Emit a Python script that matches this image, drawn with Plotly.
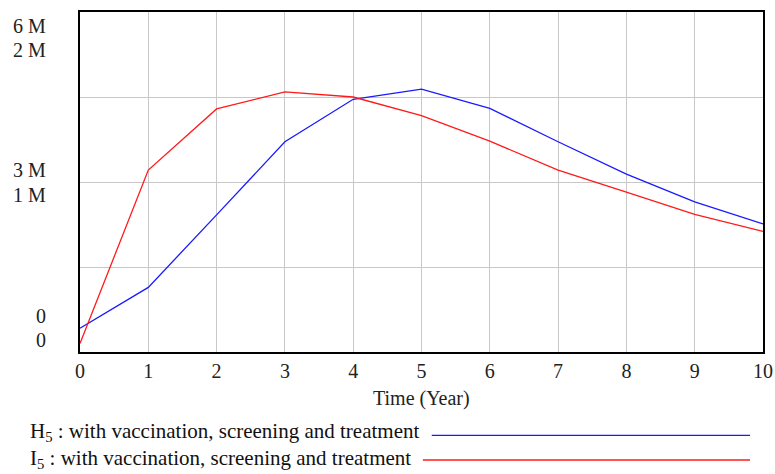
import plotly.graph_objects as go

# Simulation output, yearly
years = [0, 1, 2, 3, 4, 5, 6, 7, 8, 9, 10]
h5_values = [0.42e6, 1.14e6, 2.42e6, 3.71e6, 4.46e6, 4.64e6, 4.30e6, 3.71e6, 3.14e6, 2.65e6, 2.26e6]
i5_values = [0.05e6, 1.07e6, 1.43e6, 1.53e6, 1.50e6, 1.39e6, 1.24e6, 1.07e6, 0.94e6, 0.81e6, 0.71e6]

# Two stacked value scales on the left side
h5_tick_vals = [6e6, 3e6, 0]
h5_tick_text = ["6 M", "3 M", "0"]
i5_tick_vals = [2e6, 1e6, 0]
i5_tick_text = ["2 M", "1 M", "0"]

series_names = [
    "H<sub>5</sub> : with vaccination, screening and treatment",
    "I<sub>5</sub> : with vaccination, screening and treatment",
]
axis_title = "Time (Year)"

FONT = "Liberation Serif"
BLUE = "#1a1aff"
RED = "#ff1a1a"
GRID = "#c8c8c8"
INK = "#222"

fig = go.Figure()
fig.add_trace(go.Scatter(x=years, y=h5_values, mode="lines",
                         line=dict(color=BLUE, width=1.3), yaxis="y", showlegend=False))
fig.add_trace(go.Scatter(x=years, y=i5_values, mode="lines",
                         line=dict(color=RED, width=1.3), yaxis="y2", showlegend=False))

annotations = []
# Stacked tick labels: H5 scale on the upper row, I5 scale on the lower row,
# nudged so each pair stays inside the frame
h5_shift = [-14, 12, 36]
i5_shift = [-38, -13, 12]
for k in range(3):
    annotations.append(dict(x=0, xref="paper", y=h5_tick_vals[k], yref="y",
                            text=h5_tick_text[k], showarrow=False, xanchor="right",
                            yanchor="middle", xshift=-32, yshift=h5_shift[k],
                            font=dict(family=FONT, size=20, color=INK)))
    annotations.append(dict(x=0, xref="paper", y=i5_tick_vals[k], yref="y2",
                            text=i5_tick_text[k], showarrow=False, xanchor="right",
                            yanchor="middle", xshift=-32, yshift=i5_shift[k],
                            font=dict(family=FONT, size=20, color=INK)))

annotations.append(dict(x=0.5, xref="paper", y=-0.137, yref="paper", text=axis_title,
                        showarrow=False, xanchor="center", yanchor="middle",
                        font=dict(family=FONT, size=20, color=INK)))

# Legend rows: label on the left, sample line on the right
legend_rows = [(-0.2353, -0.2450, 0.515, BLUE), (-0.3147, -0.3176, 0.502, RED)]
shapes = []
for name, (ty, ly, lx0, col) in zip(series_names, legend_rows):
    annotations.append(dict(x=-0.0758, xref="paper", y=ty, yref="paper", text=name,
                            showarrow=False, xanchor="left", yanchor="middle",
                            font=dict(family=FONT, size=21, color="#111")))
    shapes.append(dict(type="line", xref="paper", yref="paper", x0=lx0, x1=0.981,
                       y0=ly, y1=ly, line=dict(color=col, width=1.3)))

fig.update_layout(
    width=775, height=474,
    margin=dict(l=80, r=12, t=12, b=122),
    paper_bgcolor="white", plot_bgcolor="white",
    font=dict(family=FONT, size=20, color=INK),
    xaxis=dict(range=[0, 10], dtick=1, tick0=0, showgrid=True, gridcolor=GRID, gridwidth=1,
               showline=True, linecolor="black", linewidth=2, mirror=True, automargin=False,
               zeroline=False, ticks="", tickfont=dict(family=FONT, size=20, color=INK)),
    yaxis=dict(range=[0, 6e6], tickvals=[0, 1.5e6, 3e6, 4.5e6, 6e6], showticklabels=False,
               showgrid=True, gridcolor=GRID, gridwidth=1, automargin=False,
               showline=True, linecolor="black", linewidth=2, mirror=True, zeroline=False),
    yaxis2=dict(range=[0, 2e6], overlaying="y", side="left", showgrid=False, automargin=False,
                showticklabels=False, showline=False, zeroline=False),
    annotations=annotations,
    shapes=shapes,
)

fig.write_html("out.html")
